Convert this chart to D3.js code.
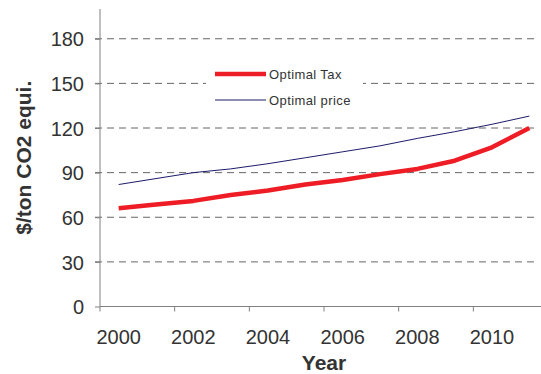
<!DOCTYPE html>
<html>
<head>
<meta charset="utf-8">
<script src="https://cdn.jsdelivr.net/npm/d3@7"></script>
<style>
  body { margin: 0; background: #fff; }
  svg { display: block; font-family: "Liberation Sans", Arial, sans-serif; }
</style>
</head>
<body>
<svg id="chart" width="541" height="374"></svg>
<script>
const years = [2000, 2001, 2002, 2003, 2004, 2005, 2006, 2007, 2008, 2009, 2010, 2011];
const optimalTax = [66, 68.5, 71, 75, 78, 82, 85, 89, 92.5, 98, 107, 120];
const optimalPrice = [82, 86, 90, 92.5, 96, 100, 104, 108, 113, 117.5, 122.5, 128];
const yTicks = [0, 30, 60, 90, 120, 150, 180];
const xTickYears = [2000, 2002, 2004, 2006, 2008, 2010];

const svg = d3.select('#chart');
const plotLeft = 100, plotRight = 548, plotTop = 9, plotBottom = 306.5;

const x = d3.scaleBand().domain(years).range([plotLeft, plotRight]);
const y = d3.scaleLinear().domain([0, 200]).range([plotBottom, plotTop]);

// gridlines (dashed)
svg.append('g')
  .selectAll('line')
  .data(yTicks.filter(d => d > 0))
  .enter()
  .append('line')
  .attr('x1', plotLeft - 5)
  .attr('x2', 538)
  .attr('y1', d => y(d))
  .attr('y2', d => y(d))
  .attr('stroke', '#666')
  .attr('stroke-width', 1)
  .attr('stroke-dasharray', '7,5');

// y axis
const yAxis = svg.append('g')
  .attr('transform', `translate(${plotLeft},0)`)
  .call(d3.axisLeft(y).tickValues(yTicks).tickSize(5).tickPadding(11));
yAxis.select('.domain').attr('stroke', '#808080').attr('d', `M0,${plotTop}V${plotBottom}`);
yAxis.selectAll('.tick line').attr('stroke', '#808080');
yAxis.selectAll('.tick text')
  .attr('fill', '#333')
  .style('font-size', '20px')
  .attr('dy', '0.36em');

// x axis: ticks at start of even-year bands, labels in band centres
const xg = svg.append('g');
xg.append('line')
  .attr('x1', plotLeft).attr('x2', plotRight)
  .attr('y1', plotBottom).attr('y2', plotBottom)
  .attr('stroke', '#808080');
xg.selectAll('line.tk')
  .data(xTickYears)
  .enter()
  .append('line')
  .attr('class', 'tk')
  .attr('x1', d => x(d)).attr('x2', d => x(d))
  .attr('y1', plotBottom).attr('y2', plotBottom + 5)
  .attr('stroke', '#808080');
xg.selectAll('text')
  .data(xTickYears)
  .enter()
  .append('text')
  .attr('x', d => x(d) + x.bandwidth() / 2)
  .attr('y', 344)
  .attr('text-anchor', 'middle')
  .attr('fill', '#333')
  .style('font-size', '20px')
  .text(d => d);

// axis titles
svg.append('text')
  .attr('x', (plotLeft + plotRight) / 2)
  .attr('y', 370)
  .attr('text-anchor', 'middle')
  .attr('fill', '#333')
  .style('font-size', '21px')
  .style('font-weight', 'bold')
  .text('Year');

svg.append('text')
  .attr('transform', `translate(31,${(plotTop + plotBottom) / 2}) rotate(-90)`)
  .attr('text-anchor', 'middle')
  .attr('fill', '#333')
  .style('font-size', '21px')
  .style('font-weight', 'bold')
  .text('$/ton CO2 equi.');

// lines
const line = d3.line()
  .x((d, i) => x(years[i]) + x.bandwidth() / 2)
  .y(d => y(d));

svg.append('path')
  .datum(optimalPrice)
  .attr('fill', 'none')
  .attr('stroke', '#1c1c6b')
  .attr('stroke-width', 1)
  .attr('d', line);

svg.append('path')
  .datum(optimalTax)
  .attr('fill', 'none')
  .attr('stroke', '#ee1c25')
  .attr('stroke-width', 4.5)
  .attr('stroke-linejoin', 'round')
  .attr('d', line);

// legend
const legend = svg.append('g');
legend.append('rect')
  .attr('x', 206).attr('y', 62)
  .attr('width', 157).attr('height', 50)
  .attr('fill', '#fff');
const legendItems = [
  { label: 'Optimal Tax', color: '#ee1c25', width: 4.5, y: 74 },
  { label: 'Optimal price', color: '#1c1c6b', width: 1, y: 100 }
];
legendItems.forEach(item => {
  legend.append('line')
    .attr('x1', 215).attr('x2', 266)
    .attr('y1', item.y).attr('y2', item.y)
    .attr('stroke', item.color)
    .attr('stroke-width', item.width);
  legend.append('text')
    .attr('x', 269)
    .attr('y', item.y + 4.5)
    .attr('fill', '#333')
    .style('font-size', '13px')
    .style('letter-spacing', '0.4px')
    .text(item.label);
});
</script>
</body>
</html>
